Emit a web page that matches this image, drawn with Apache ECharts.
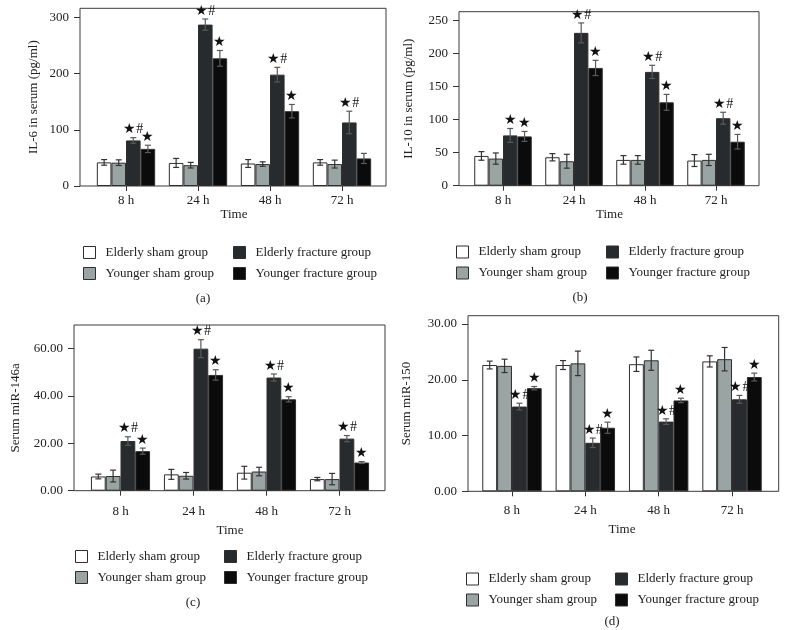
<!DOCTYPE html>
<html><head><meta charset="utf-8">
<script src="https://cdn.jsdelivr.net/npm/echarts@6/dist/echarts.min.js"></script>
<style>html,body{margin:0;padding:0;background:#fff}#c{width:787px;height:630px}</style>
</head><body><div id="c"></div>
<script>
// ---------- DATA ----------
const categories = ['8 h', '24 h', '48 h', '72 h'];
const groupNames = ['Elderly sham group', 'Younger sham group', 'Elderly fracture group', 'Younger fracture group'];

// (a) IL-6
const il6ElderlySham = [42, 41, 40, 42];
const il6YoungerSham = [41.5, 37, 39, 39];
const il6ElderlyFracture = [81, 287, 198, 113];
const il6YoungerFracture = [66, 227, 133, 49];
const il6ElderlyShamErr = [5, 8, 7, 5];
const il6YoungerShamErr = [5, 5, 4, 7];
const il6ElderlyFractureErr = [5, 10, 13, 20];
const il6YoungerFractureErr = [6.5, 14, 12, 9];
const il6ElderlyFractureMark = ['★#', '★#', '★#', '★#'];
const il6YoungerFractureMark = ['★', '★', '★', ''];
const il6Ticks = [0, 100, 200, 300];

// (b) IL-10
const il10ElderlySham = [45, 43, 39, 38];
const il10YoungerSham = [41, 37, 39, 39];
const il10ElderlyFracture = [76, 231, 172, 102];
const il10YoungerFracture = [74.5, 178, 126, 66.5];
const il10ElderlyShamErr = [6.5, 5.5, 6.5, 9];
const il10YoungerShamErr = [8.5, 10.5, 6.5, 8.5];
const il10ElderlyFractureErr = [10.5, 15, 10, 9];
const il10YoungerFractureErr = [7.5, 11.5, 12, 11];
const il10ElderlyFractureMark = ['★', '★#', '★#', '★#'];
const il10YoungerFractureMark = ['★', '★', '★', '★'];
const il10Ticks = [0, 50, 100, 150, 200, 250];

// (c) miR-146a
const mir146ElderlySham = [6.0, 6.9, 7.6, 4.9];
const mir146YoungerSham = [6.2, 6.3, 8.1, 4.9];
const mir146ElderlyFracture = [21.0, 60.0, 47.8, 22.0];
const mir146YoungerFracture = [16.7, 48.9, 38.6, 11.9];
const mir146ElderlyShamErr = [1.0, 2.1, 2.7, 0.7];
const mir146YoungerShamErr = [2.5, 1.4, 1.8, 2.4];
const mir146ElderlyFractureErr = [1.8, 3.8, 1.5, 1.3];
const mir146YoungerFractureErr = [1.3, 2.2, 1.1, 0.4];
const mir146ElderlyFractureMark = ['★#', '★#', '★#', '★#'];
const mir146YoungerFractureMark = ['★', '★', '★', '★'];
const mir146Ticks = [0, 20, 40, 60];

// (d) miR-150
const mir150ElderlySham = [22.65, 22.65, 22.8, 23.3];
const mir150YoungerSham = [22.5, 22.95, 23.5, 23.7];
const mir150ElderlyFracture = [15.2, 8.7, 12.5, 16.5];
const mir150YoungerFracture = [18.5, 11.4, 16.3, 20.5];
const mir150ElderlyShamErr = [0.7, 0.8, 1.3, 1.0];
const mir150YoungerShamErr = [1.2, 2.2, 1.8, 2.1];
const mir150ElderlyFractureErr = [0.6, 0.85, 0.5, 0.7];
const mir150YoungerFractureErr = [0.3, 1.0, 0.4, 0.7];
const mir150ElderlyFractureMark = ['★#', '★#', '★#', '★#'];
const mir150YoungerFractureMark = ['★', '★', '★', '★'];
const mir150Ticks = [0, 10, 20, 30];

// ---------- STYLE / LAYOUT ----------
const FONT = '"Liberation Serif", "DejaVu Serif", serif';
const TXT = '#222';
const barColors = ['#ffffff', '#9aa5a3', '#272b2d', '#0b0b0b'];
const BORDER = '#2e2e2e';
const CAT_GAP = 0.19;

const panels = [
  { yName: 'IL-6 in serum (pg/ml)', max: 316, dec: 0, ticks: il6Ticks,
    means: [il6ElderlySham, il6YoungerSham, il6ElderlyFracture, il6YoungerFracture],
    errs: [il6ElderlyShamErr, il6YoungerShamErr, il6ElderlyFractureErr, il6YoungerFractureErr],
    marks: [null, null, il6ElderlyFractureMark, il6YoungerFractureMark],
    frame: { l: 80, r: 386, t: 8.3, b: 186 }, band: { l: 90, r: 378 },
    yNameGap: 40, xMargin: 8, xNameGap: 19, lg: { c1: 83, c2: 233, t: 246 }, cap: { x: 203, y: 299, t: '(a)' } },
  { yName: 'IL-10 in serum (pg/ml)', max: 263, dec: 0, ticks: il10Ticks,
    means: [il10ElderlySham, il10YoungerSham, il10ElderlyFracture, il10YoungerFracture],
    errs: [il10ElderlyShamErr, il10YoungerShamErr, il10ElderlyFractureErr, il10YoungerFractureErr],
    marks: [null, null, il10ElderlyFractureMark, il10YoungerFractureMark],
    frame: { l: 459, r: 759, t: 11.7, b: 185.7 }, band: { l: 467.5, r: 751.5 },
    yNameGap: 44, xMargin: 8, xNameGap: 19, lg: { c1: 456, c2: 606, t: 245.5 }, cap: { x: 580, y: 298, t: '(b)' } },
  { yName: 'Serum miR-146a', max: 70, dec: 2, ticks: mir146Ticks,
    means: [mir146ElderlySham, mir146YoungerSham, mir146ElderlyFracture, mir146YoungerFracture],
    errs: [mir146ElderlyShamErr, mir146YoungerShamErr, mir146ElderlyFractureErr, mir146YoungerFractureErr],
    marks: [null, null, mir146ElderlyFractureMark, mir146YoungerFractureMark],
    frame: { l: 74, r: 385, t: 325, b: 490.7 }, band: { l: 84, r: 376 },
    yNameGap: 52, xMargin: 14, xNameGap: 33, lg: { c1: 75, c2: 224, t: 550 }, cap: { x: 193, y: 603, t: '(c)' } },
  { yName: 'Serum miR-150', max: 31.5, dec: 2, ticks: mir150Ticks,
    means: [mir150ElderlySham, mir150YoungerSham, mir150ElderlyFracture, mir150YoungerFracture],
    errs: [mir150ElderlyShamErr, mir150YoungerShamErr, mir150ElderlyFractureErr, mir150YoungerFractureErr],
    marks: [null, null, mir150ElderlyFractureMark, mir150YoungerFractureMark],
    frame: { l: 468, r: 778.7, t: 315.7, b: 491.3 }, band: { l: 475.3, r: 768.7 },
    yNameGap: 55, xMargin: 13, xNameGap: 32, lg: { c1: 466, c2: 615, t: 572.5 }, cap: { x: 612, y: 622, t: '(d)' } }
];

// ---------- BUILD ----------
const W = 787, H = 630;
const grid = [], xAxis = [], yAxis = [], series = [], legend = [], graphic = [];

panels.forEach((p, i) => {
  const gi = grid.length;
  grid.push({ left: p.band.l, width: p.band.r - p.band.l, top: p.frame.t, height: p.frame.b - p.frame.t });
  grid.push({ left: p.frame.l, width: p.frame.r - p.frame.l, top: p.frame.t, height: p.frame.b - p.frame.t,
    show: true, borderColor: '#3a3a3a', borderWidth: 1, backgroundColor: 'rgba(0,0,0,0)' });

  xAxis.push({ type: 'category', gridIndex: gi, data: categories,
    axisLine: { show: false },
    axisTick: { show: true, alignWithLabel: true, length: 5, lineStyle: { color: '#333' } },
    axisLabel: { fontFamily: FONT, fontSize: 13, color: TXT, margin: p.xMargin },
    name: 'Time', nameLocation: 'middle', nameGap: p.xNameGap,
    nameTextStyle: { fontFamily: FONT, fontSize: 13, color: TXT } });
  xAxis.push({ type: 'value', gridIndex: gi + 1, show: false, min: 0, max: 1 });

  yAxis.push({ type: 'value', gridIndex: gi, min: 0, max: p.max, offset: p.band.l - p.frame.l,
    axisLine: { show: false },
    axisTick: { show: true, length: 6, customValues: p.ticks, lineStyle: { color: '#333' } },
    axisLabel: { customValues: p.ticks, fontFamily: FONT, fontSize: 13, color: TXT, margin: 11,
      formatter: v => Number(v).toFixed(p.dec) },
    splitLine: { show: false },
    name: p.yName, nameLocation: 'middle', nameGap: p.yNameGap,
    nameTextStyle: { fontFamily: FONT, fontSize: 13, color: TXT } });
  yAxis.push({ type: 'value', gridIndex: gi + 1, show: false, min: 0, max: 1 });

  p.means.forEach((vals, k) => {
    series.push({ type: 'bar', name: groupNames[k], xAxisIndex: gi, yAxisIndex: gi, data: vals,
      barGap: '0%', barCategoryGap: (CAT_GAP * 100) + '%',
      itemStyle: { color: barColors[k], borderColor: BORDER, borderWidth: 1 },
      emphasis: { disabled: true }, silent: true, z: 2 });
  });

  const errData = [];
  const markList = [];
  p.means.forEach((vals, k) => {
    vals.forEach((m, c) => {
      errData.push([c, k, m, p.errs[k][c]]);
      markList.push(p.marks[k] ? p.marks[k][c] : '');
    });
  });
  series.push({ type: 'custom', xAxisIndex: gi, yAxisIndex: gi, data: errData, z: 5, silent: true,
    encode: { x: 0, y: 2 }, clip: false,
    renderItem: (params, api) => {
      const c = api.value(0), k = api.value(1), m = api.value(2), e = api.value(3);
      const band = api.size([1, 0])[0];
      const gw = band * (1 - CAT_GAP), bw = gw / 4;
      const cx = api.coord([c, 0])[0] - gw / 2 + (k + 0.5) * bw;
      const yT = api.coord([c, m + e])[1], yB = api.coord([c, m - e])[1];
      const hw = 3;
      const ls = { stroke: k >= 2 ? '#5a5a5a' : '#333', lineWidth: 1.2 };
      const children = [
        { type: 'line', shape: { x1: cx, y1: yT, x2: cx, y2: yB }, style: ls },
        { type: 'line', shape: { x1: cx - hw, y1: yT, x2: cx + hw, y2: yT }, style: ls },
        { type: 'line', shape: { x1: cx - hw, y1: yB, x2: cx + hw, y2: yB }, style: ls }
      ];
      const mk = markList[params.dataIndex];
      if (mk) {
        children.push({ type: 'text', x: cx, y: yT - 1,
          style: { text: mk, align: 'center', verticalAlign: 'bottom', textAlign: 'center', textVerticalAlign: 'bottom',
            font: '14px ' + FONT, fill: '#111' } });
      }
      return { type: 'group', children };
    } });

  const mkLegend = (names, left) => ({
    data: names.map(n => ({ name: n, itemStyle: { color: barColors[groupNames.indexOf(n)], borderColor: BORDER, borderWidth: 1 } })),
    orient: 'vertical', left: left, top: p.lg.t, padding: 0, icon: 'rect',
    itemWidth: 12, itemHeight: 12, itemGap: 8, selectedMode: false,
    textStyle: { fontFamily: FONT, fontSize: 13, color: TXT, padding: [0, 0, 0, 5] }
  });
  legend.push(mkLegend([groupNames[0], groupNames[1]], p.lg.c1));
  legend.push(mkLegend([groupNames[2], groupNames[3]], p.lg.c2));

  graphic.push({ type: 'text', x: p.cap.x, y: p.cap.y,
    style: { text: p.cap.t, align: 'center', verticalAlign: 'middle', textAlign: 'center', textVerticalAlign: 'middle',
      font: '13px ' + FONT, fill: TXT } });
});

const chart = echarts.init(document.getElementById('c'), null, { renderer: 'canvas', width: W, height: H });
chart.setOption({
  animation: false,
  backgroundColor: '#ffffff',
  grid, xAxis, yAxis, series, legend, graphic
});
</script></body></html>
